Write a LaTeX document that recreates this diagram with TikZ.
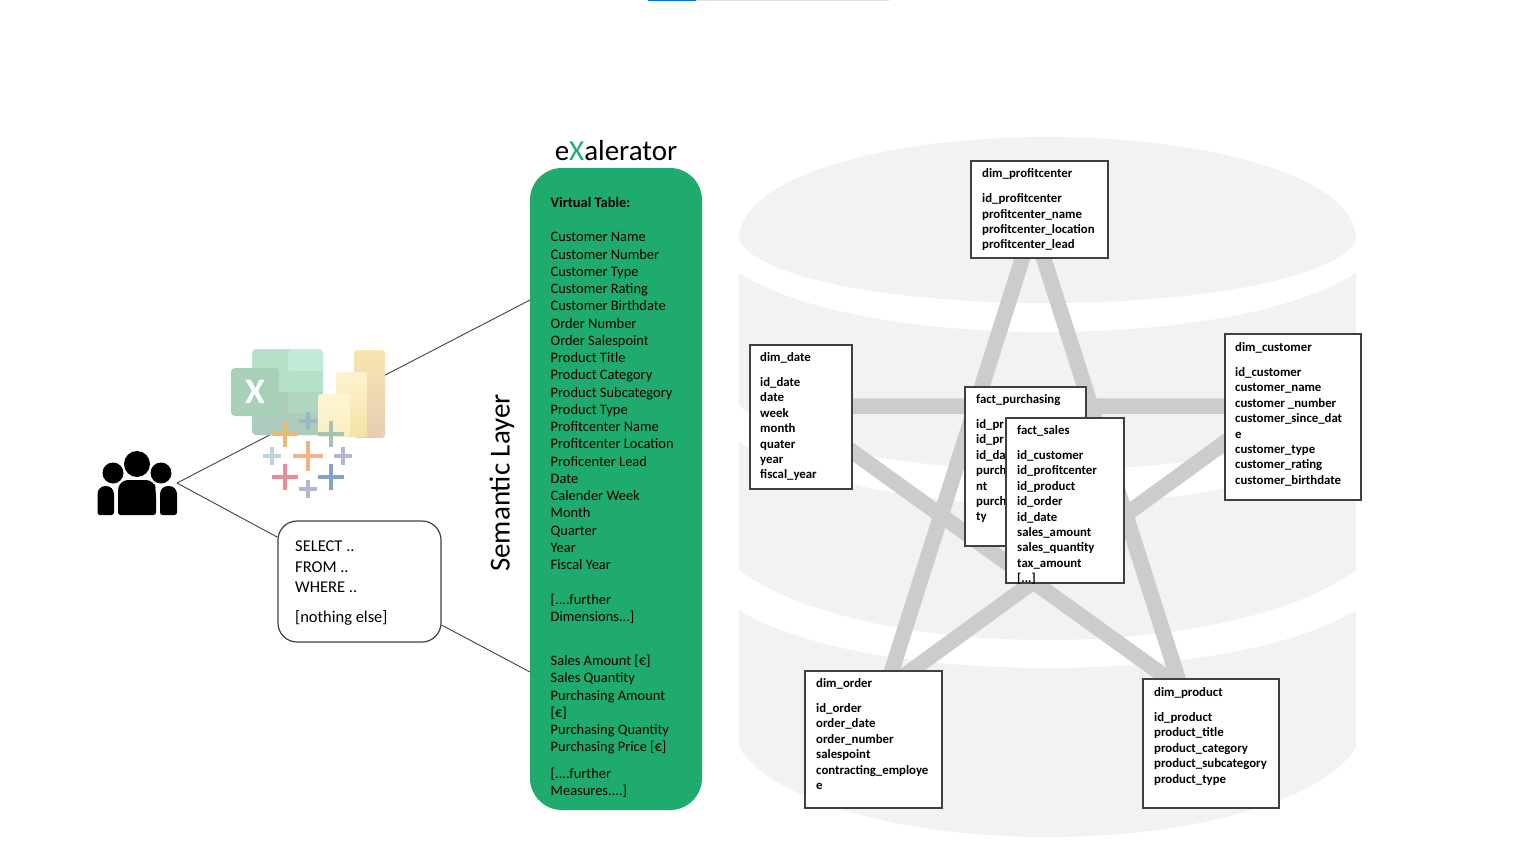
\documentclass[tikz,border=0pt]{standalone}
\usepackage{fontspec}
\setmainfont{Carlito}
\definecolor{dbgray}{HTML}{F2F2F2}
\definecolor{stargray}{HTML}{CCCCCC}
\definecolor{panelgreen}{HTML}{1FAB6E}
\definecolor{linegray}{HTML}{404040}
\tikzset{
  connector/.style={draw=linegray,line width=0.9pt},
  tablebox/.style={draw=black!75,fill=white,line width=1.5pt,rectangle,inner sep=0pt,anchor=north west},
  tabletext/.style={inner sep=0pt,anchor=north west,align=left,font=\fontsize{12.8}{15.4}\selectfont\bfseries},
  paneltext/.style={inner sep=0pt,anchor=north west,align=left,font=\fontsize{14.45}{17.25}\selectfont},
  tabplus/.style={line width=3.6pt}
}
\begin{document}
\begin{tikzpicture}[x=1pt,y=-1pt]
    \useasboundingbox (0,0) rectangle (1536,864);
    % progress bar on top
    \fill[blue!50!cyan!90!black] (648,0) rectangle (696,1.2);
    \fill[black!12] (696,0) rectangle (889,1.2);
    % database
    \fill[dbgray] (739,240) .. controls (739,175) and (890,137) .. (1047,137)
      .. controls (1205,137) and (1356,175) .. (1356,240)
      .. controls (1335,280) and (1195,303) .. (1047,303)
      .. controls (900,303) and (760,280) .. (739,240) -- cycle;
    \fill[dbgray] (739,273) .. controls (800,312) and (920,332) .. (1047,332)
      .. controls (1175,332) and (1295,312) .. (1356,273) -- (1356,405)
      .. controls (1315,445) and (1195,470) .. (1047,470)
      .. controls (900,470) and (780,445) .. (739,405) -- cycle;
    \fill[dbgray] (739,442) .. controls (800,480) and (920,505) .. (1047,505)
      .. controls (1175,505) and (1295,480) .. (1356,442) -- (1356,570)
      .. controls (1295,615) and (1175,640) .. (1047,640)
      .. controls (920,640) and (800,615) .. (739,570) -- cycle;
    \fill[dbgray] (739,610) .. controls (800,648) and (920,668) .. (1047,668)
      .. controls (1175,668) and (1295,648) .. (1356,610) -- (1356,747)
      .. controls (1325,800) and (1195,837) .. (1047,837)
      .. controls (900,837) and (770,800) .. (739,747) -- cycle;
    % star
    \coordinate (starprofit) at (1033,225);
    \coordinate (starorder) at (886,689);
    \coordinate (starcustomer) at (1275,406);
    \coordinate (stardate) at (789,406);
    \coordinate (starproduct) at (1181,688);
    \draw[stargray,line width=15.5pt] (starprofit) -- (starorder) -- (starcustomer) -- (stardate) -- (starproduct) -- cycle;
    % tables
    \node[tablebox,minimum width=137pt,minimum height=97pt] (profitcenter) at (970,160) {};
    \node[tabletext] (profitcentertext) at (982,168.5) {dim\_profitcenter\\[9.5pt]id\_profitcenter\\profitcenter\_name\\profitcenter\_location\\profitcenter\_lead};
    \node[tablebox,minimum width=102pt,minimum height=144pt] (date) at (749,344) {};
    \node[tabletext] (datetext) at (760,352.5) {dim\_date\\[9.5pt]id\_date\\date\\week\\month\\quater\\year\\fiscal\_year};
    \node[tablebox,minimum width=136pt,minimum height=166pt] (customer) at (1224,333) {};
    \node[tabletext] (customertext) at (1235,342.5) {dim\_customer\\[9.5pt]id\_customer\\customer\_name\\customer \_number\\customer\_since\_dat\\e\\customer\_type\\customer\_rating\\customer\_birthdate};
    \node[tablebox,minimum width=137pt,minimum height=137pt] (order) at (804,670) {};
    \node[tabletext] (ordertext) at (816,678.5) {dim\_order\\[9.5pt]id\_order\\order\_date\\order\_number\\salespoint\\contracting\_employe\\e};
    \node[tablebox,minimum width=136pt,minimum height=129pt] (product) at (1142,678) {};
    \node[tabletext] (producttext) at (1154,687.5) {dim\_product\\[9.5pt]id\_product\\product\_title\\product\_category\\product\_subcategory\\product\_type};
    \node[tablebox,minimum width=121pt,minimum height=159pt] (purchasing) at (964,386) {};
    \node[tabletext] (purchasingtext) at (976,394.5) {fact\_purchasing\\[9.5pt]id\_pr\\id\_pr\\id\_da\\purch\\nt\\purch\\ty};
    \node[tablebox,minimum width=118pt,minimum height=165pt] (sales) at (1005,417) {};
    \node[tabletext] (salestext) at (1017,425.5) {fact\_sales\\[9.5pt]id\_customer\\id\_profitcenter\\id\_product\\id\_order\\id\_date\\sales\_amount\\sales\_quantity\\tax\_amount\\{[...]}};
    % semantic layer
    \node[fill=panelgreen,rounded corners=32pt,minimum width=172pt,minimum height=642pt,inner sep=0pt] (virtual) at (616,489) {};
    \node[paneltext] (virtualtext) at (550.5,197) {\textbf{Virtual Table:}\\[17.25pt]Customer Name\\Customer Number\\Customer Type\\Customer Rating\\Customer Birthdate\\Order Number\\Order Salespoint\\Product Title\\Product Category\\Product Subcategory\\Product Type\\Profitcenter Name\\Profitcenter Location\\Proficenter Lead\\Date\\Calender Week\\Month\\Quarter\\Year\\Fiscal Year\\[17.25pt][....further\\Dimensions...]\\[27pt]Sales Amount [€]\\Sales Quantity\\Purchasing Amount\\{[€]}\\Purchasing Quantity\\Purchasing Price [€]\\[9.5pt][....further\\Measures....]};
    \node[font=\fontsize{29}{29}\selectfont] (title) at (616,151) {e\textcolor{panelgreen}{X}alerator};
    \node[rotate=90,font=\fontsize{29}{29}\selectfont] (layer) at (502,483) {Semantic Layer};
    % connectors
    \coordinate (people) at (177,483);
    \coordinate (virtualup) at (530,300);
    \coordinate (virtualdown) at (530,672);
    \node[draw=linegray,fill=white,line width=1.2pt,rounded corners=19pt,minimum width=163pt,minimum height=121pt,inner sep=0pt] (sql) at (359.5,581.5) {};
    \node[inner sep=0pt,anchor=north west,align=left,font=\fontsize{16.5}{20.2}\selectfont] (sqltext) at (295,541) {SELECT ..\\FROM ..\\WHERE ..\\[10pt][nothing else]};
    \draw[connector] (people) -- (virtualup);
    \draw[connector] (people) -- (sql);
    \draw[connector] (sql) -- (virtualdown);
    % excel icon
    \fill[fill={rgb,255:red,182;green,223;blue,202},rounded corners=4pt] (252,349) rectangle (323,435);
    \fill[fill={rgb,255:red,193;green,236;blue,216},rounded corners=4pt] (288,349) rectangle (323,372);
    \fill[fill={rgb,255:red,181;green,224;blue,201}] (288,371) rectangle (323,392);
    \fill[fill={rgb,255:red,176;green,214;blue,192}] (288,392) rectangle (323,413);
    \fill[fill={rgb,255:red,174;green,204;blue,187},rounded corners=4pt] (252,413) rectangle (323,435);
    \fill[fill={rgb,255:red,174;green,204;blue,187}] (252,392) rectangle (288,418);
    \fill[fill={rgb,255:red,166;green,208;blue,184},rounded corners=4pt] (231,368) rectangle (279,416);
    \node[text=white,font=\fontsize{36}{36}\selectfont\bfseries] (excelx) at (255,392) {X};
    % power bi icon
    \shade[top color={rgb,255:red,246;green,229;blue,175},bottom color={rgb,255:red,232;green,205;blue,178},rounded corners=3pt] (354,350) rectangle (385,438);
    \shade[top color={rgb,255:red,252;green,242;blue,208},bottom color={rgb,255:red,245;green,226;blue,165},rounded corners=3pt] (336,372) rectangle (367,437);
    \shade[top color={rgb,255:red,253;green,246;blue,212},bottom color={rgb,255:red,250;green,238;blue,195},rounded corners=3pt] (318,394) rectangle (350,437);
    % tableau icon
    \draw[tabplus,color={rgb,255:red,232;green,186;blue,120}] (285,421) -- (285,447) (272,434) -- (298,434);
    \draw[tabplus,color={rgb,255:red,150;green,185;blue,195}] (308,412) -- (308,430) (299,421) -- (317,421);
    \draw[tabplus,color={rgb,255:red,165;green,195;blue,180}] (331,421) -- (331,447) (318,434) -- (344,434);
    \draw[tabplus,color={rgb,255:red,185;green,212;blue,222}] (272,447) -- (272,465) (263,456) -- (281,456);
    \draw[tabplus,color={rgb,255:red,243;green,178;blue,130}] (308,441) -- (308,471) (293,456) -- (323,456);
    \draw[tabplus,color={rgb,255:red,178;green,182;blue,212}] (343,447) -- (343,465) (334,456) -- (352,456);
    \draw[tabplus,color={rgb,255:red,230;green,140;blue,155}] (285,464) -- (285,490) (272,477) -- (298,477);
    \draw[tabplus,color={rgb,255:red,135;green,160;blue,200}] (331,464) -- (331,490) (318,477) -- (344,477);
    \draw[tabplus,color={rgb,255:red,178;green,182;blue,212}] (308,480) -- (308,498) (299,489) -- (317,489);
    % people icon
    \fill (137,464) circle (13);
    \fill (113,473) circle (10.5);
    \fill (161,473) circle (10.5);
    \fill[rounded corners=2.5pt] (118,515) -- (118,490) [rounded corners=8pt] -- (120,480) -- (154,480) -- (156,490) [rounded corners=2.5pt] -- (156,515) -- cycle;
    \fill[rounded corners=2.5pt] (97.5,515) [rounded corners=8pt] -- (97.5,486) -- (114,486) [rounded corners=2.5pt] -- (114,515) -- cycle;
    \fill[rounded corners=2.5pt] (160,515) [rounded corners=8pt] -- (160,486) -- (177,486) [rounded corners=2.5pt] -- (177,515) -- cycle;
  \end{tikzpicture}
\end{document}
